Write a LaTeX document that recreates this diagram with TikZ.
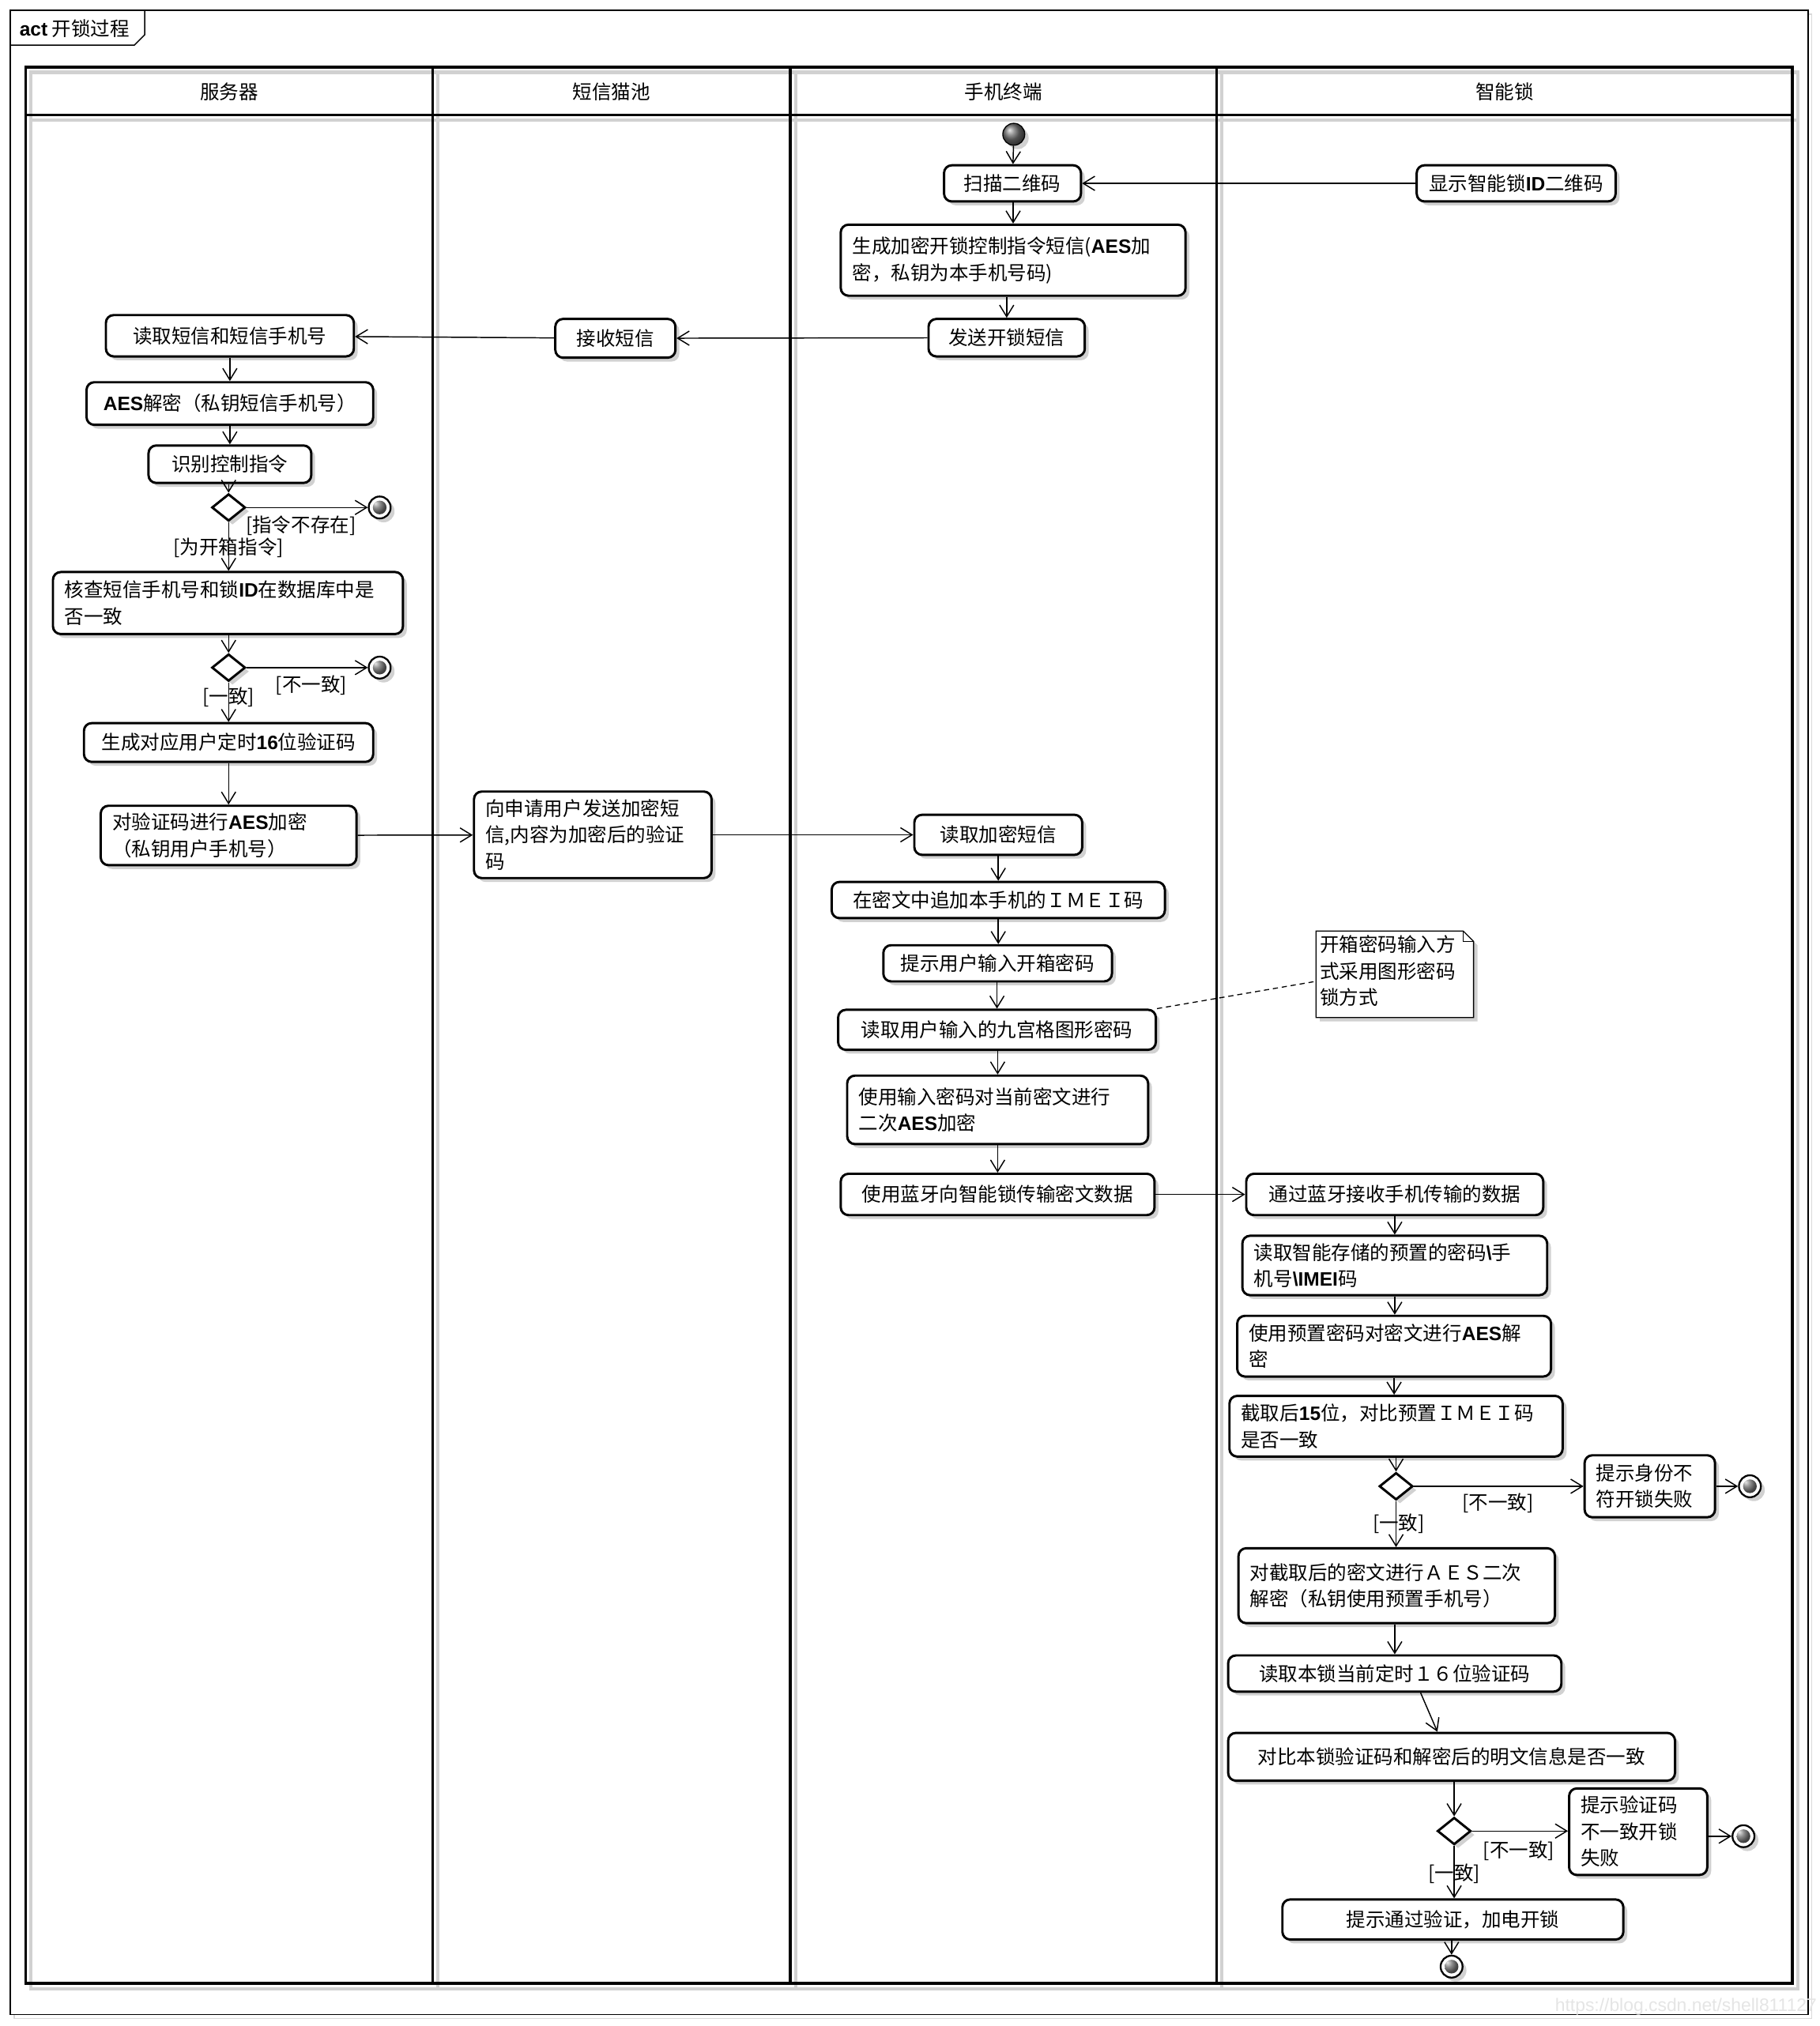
\documentclass[tikz,border=0pt]{standalone}
\usepackage{fontspec}
\setmainfont{Noto Sans CJK SC}
\newfontfamily\latf{Liberation Sans}
\newcommand\ltb[1]{{\latf\bfseries #1}}
\usetikzlibrary{shapes.geometric,arrows.meta,shadows}
\begin{document}
\begin{tikzpicture}[x=1pt,y=-1pt,
  shd/.style={drop shadow={shadow xshift=3pt,shadow yshift=-3pt,fill=black!18,opacity=1}},
  txt/.style={font=\fontsize{15}{20.5}\selectfont},
  act/.style={draw, line width=1.8pt, rounded corners=6pt, fill=white, shd, txt, inner sep=0pt},
  sbox/.style 2 args={act, minimum width=#1, minimum height=#2},
  mbox/.style 2 args={act, align=left, inner xsep=9pt, text width=#1, minimum height=#2},
  dia/.style={diamond, draw, line width=1.8pt, fill=white, minimum width=26pt, minimum height=21pt, inner sep=0pt, shd},
  initnode/.style={circle, draw=black, line width=0.8pt, minimum size=17pt, inner sep=0pt, ball color=black!55, shd},
  finnode/.style={circle, draw, line width=1.4pt, fill=white, minimum size=17pt, inner sep=0pt, shd,
     path picture={\shade[ball color=black!60] (path picture bounding box.center) circle[radius=5.3pt];}},
  lbl/.style={txt, inner sep=0pt},
  flow/.style={draw, line width=0.9pt, -{Straight Barb[length=9pt,width=11pt]}}
]
\useasboundingbox (0,0) rectangle (1409,1569);
% outer frame
\draw[black!15, line width=0.8pt] (11,11) rectangle (1403,1563);
\draw[fill=white, line width=0.9pt] (8,8) rectangle (1400,1560);
\draw[line width=0.9pt] (8,35) -- (104,35) -- (112,27) -- (112,8);
\node[anchor=west, txt, inner sep=0pt] (title) at (15,22) {\ltb{act} 开锁过程};
% pool shadow
\draw[black!18, line width=2.5pt] (24,56) rectangle (1392,1540);
\draw[black!18, line width=2.5pt] (24,93) -- (1392,93);
\foreach \xx in {339,616,946} \draw[black!18, line width=2.5pt] (\xx,56) -- (\xx,1540);
% pool
\draw[line width=2.2pt] (20,52) rectangle (1388,1536);
\draw[line width=2.2pt] (20,89) -- (1388,89);
\foreach \xx in {335,612,942} \draw[line width=2.2pt] (\xx,52) -- (\xx,1536);
\node[lbl] (h1) at (177.5,71) {服务器};
\node[lbl] (h2) at (473.5,71) {短信猫池};
\node[lbl] (h3) at (777,71) {手机终端};
\node[lbl] (h4) at (1165,71) {智能锁};
% note shape
\fill[black!18] (1022,724) -- (1136,724) -- (1144,732) -- (1144,791) -- (1022,791) -- cycle;
\filldraw[fill=white, line width=0.8pt] (1019,721) -- (1133,721) -- (1141,729) -- (1141,788) -- (1019,788) -- cycle;
\draw[line width=0.8pt] (1133,721) |- (1141,729);
\node[txt, align=left, text width=116pt, inner xsep=3pt, inner ysep=0pt] (note) at (1080,752) {开箱密码输入方\\式采用图形密码\\锁方式};
% phone lane
\node[initnode] (init) at (785,104) {};
\node[sbox={106pt}{28pt}] (scan) at (784,142) {扫描二维码};
\node[sbox={154pt}{28pt}] (show) at (1174,142) {显示智能锁\ltb{ID}二维码};
\node[mbox={249pt}{55pt}] (gen) at (784.5,201.5) {生成加密开锁控制指令短信(\ltb{AES}加\\密，私钥为本手机号码)};
\node[sbox={121pt}{29pt}] (send) at (779.5,261.5) {发送开锁短信};
\node[sbox={93pt}{30pt}] (recv) at (476.5,262) {接收短信};
% server lane
\node[sbox={192pt}{32pt}] (rd) at (178,260) {读取短信和短信手机号};
\node[sbox={222pt}{33pt}] (dec) at (178,312.5) {\ltb{AES}解密（私钥短信手机号）};
\node[sbox={126pt}{29pt}] (ident) at (178,359.5) {识别控制指令};
\node[dia] (d1) at (177,393) {};
\node[finnode] (f1) at (294,393) {};
\node[lbl] (l1) at (233,407) {[指令不存在]};
\node[lbl] (l2) at (177,424) {[为开箱指令]};
\node[mbox={253pt}{48pt}] (chk) at (176.5,467) {核查短信手机号和锁\ltb{ID}在数据库中是\\否一致};
\node[dia] (d2) at (177,517) {};
\node[finnode] (f2) at (294,517) {};
\node[lbl] (l3) at (241,531) {[不一致]};
\node[lbl] (l4) at (177,540) {[一致]};
\node[sbox={224pt}{30pt}] (g16) at (177,575) {生成对应用户定时\ltb{16}位验证码};
\node[mbox={180pt}{46pt}] (enc) at (177,647) {对验证码进行\ltb{AES}加密\\（私钥用户手机号）};
% sms lane
\node[mbox={166pt}{67pt}] (sms) at (459,646.5) {向申请用户发送加密短\\信,内容为加密后的验证\\码};
% phone lane lower
\node[sbox={130pt}{31pt}] (rdenc) at (773,646.5) {读取加密短信};
\node[sbox={258pt}{28pt}] (imei) at (773,697) {在密文中追加本手机的ＩＭＥＩ码};
\node[sbox={177pt}{28pt}] (prompt) at (772.5,746) {提示用户输入开箱密码};
\node[sbox={246pt}{31pt}] (nine) at (772,797.5) {读取用户输入的九宫格图形密码};
\node[mbox={215pt}{53pt}] (enc2) at (772.5,859.5) {使用输入密码对当前密文进行\\二次\ltb{AES}加密};
\node[sbox={243pt}{32pt}] (bt) at (772.5,925) {使用蓝牙向智能锁传输密文数据};
% lock lane
\node[sbox={230pt}{32pt}] (btr) at (1080,925) {通过蓝牙接收手机传输的数据};
\node[mbox={218pt}{46pt}] (pre) at (1080,980) {读取智能存储的预置的密码\ltb{\textbackslash}手\\机号\ltb{\textbackslash IMEI}码};
\node[mbox={225pt}{47pt}] (aesd) at (1079.5,1042.5) {使用预置密码对密文进行\ltb{AES}解\\密};
\node[mbox={240pt}{47pt}] (cut) at (1081,1104.5) {截取后\ltb{15}位，对比预置ＩＭＥＩ码\\是否一致};
\node[dia] (d3) at (1081,1151) {};
\node[mbox={83pt}{48pt}] (idf) at (1277.5,1151) {提示身份不\\符开锁失败};
\node[finnode] (f3) at (1355,1151) {};
\node[lbl] (l5) at (1160,1164) {[不一致]};
\node[lbl] (l6) at (1083,1180) {[一致]};
\node[mbox={227pt}{58pt}] (dec2) at (1081.5,1228) {对截取后的密文进行ＡＥＳ二次\\解密（私钥使用预置手机号）};
\node[sbox={258pt}{28pt}] (rb) at (1080,1296) {读取本锁当前定时１６位验证码};
\node[sbox={346pt}{37pt}] (cmp) at (1124,1360.5) {对比本锁验证码和解密后的明文信息是否一致};
\node[dia] (d4) at (1126,1418) {};
\node[mbox={89pt}{67pt}] (vf) at (1268.5,1418.5) {提示验证码\\不一致开锁\\失败};
\node[finnode] (f4) at (1350,1422) {};
\node[lbl] (l7) at (1176,1433) {[不一致]};
\node[lbl] (l8) at (1126,1451) {[一致]};
\node[sbox={264pt}{31pt}] (ok) at (1125,1486.5) {提示通过验证，加电开锁};
\node[finnode] (f5) at (1124,1523) {};
\node[anchor=east, font=\latf\fontsize{14}{14}\selectfont, text=black!10, inner sep=0pt] (wm) at (1407,1554) {https://blog.csdn.net/shell811127};
% connectors
\draw[flow] (init) -- (scan);
\draw[flow] (show) -- (scan);
\draw[flow] (scan.south -| gen) -- (gen);
\draw[flow] (gen.south -| send) -- (send);
\draw[flow] (send) -- (recv);
\draw[flow] (recv) -- (rd);
\draw[flow] (rd) -- (dec);
\draw[flow] (dec) -- (ident);
\draw[flow] (ident.south -| d1) -- (d1);
\draw[flow] (d1) -- (f1);
\draw[flow] (d1) -- (d1 |- chk.north);
\draw[flow] (chk.south -| d2) -- (d2);
\draw[flow] (d2) -- (f2);
\draw[flow] (d2) -- (d2 |- g16.north);
\draw[flow] (g16) -- (g16 |- enc.north);
\draw[flow] (enc) -- (sms);
\draw[flow] (sms) -- (rdenc);
\draw[flow] (rdenc) -- (rdenc |- imei.north);
\draw[flow] (imei) -- (imei |- prompt.north);
\draw[flow] (prompt.south -| nine) -- (nine);
\draw[flow] (nine.south -| enc2) -- (enc2);
\draw[flow] (enc2) -- (enc2 |- bt.north);
\draw[flow] (bt) -- (btr);
\draw[flow] (btr) -- (btr |- pre.north);
\draw[flow] (pre) -- (pre |- aesd.north);
\draw[flow] (aesd) -- (aesd |- cut.north);
\draw[flow] (cut.south -| d3) -- (d3);
\draw[flow] (d3) -- (idf);
\draw[flow] (idf) -- (f3);
\draw[flow] (d3) -- (d3 |- dec2.north);
\draw[flow] (dec2.south -| rb) -- (rb);
\draw[flow] ([xshift=20pt]rb.south) -- ([xshift=-11pt]cmp.north);
\draw[flow] (cmp.south -| d4) -- (d4);
\draw[flow] (d4) -- (d4 -| vf.west);
\draw[flow] (vf.east |- f4) -- (f4);
\draw[flow] (d4) -- (d4 |- ok.north);
\draw[flow] (ok.south -| f5) -- (f5);
\draw[dashed, dash pattern=on 4pt off 3pt, line width=0.8pt] (nine.north east) -- ([yshift=-8pt]note.west);
\end{tikzpicture}
\end{document}
